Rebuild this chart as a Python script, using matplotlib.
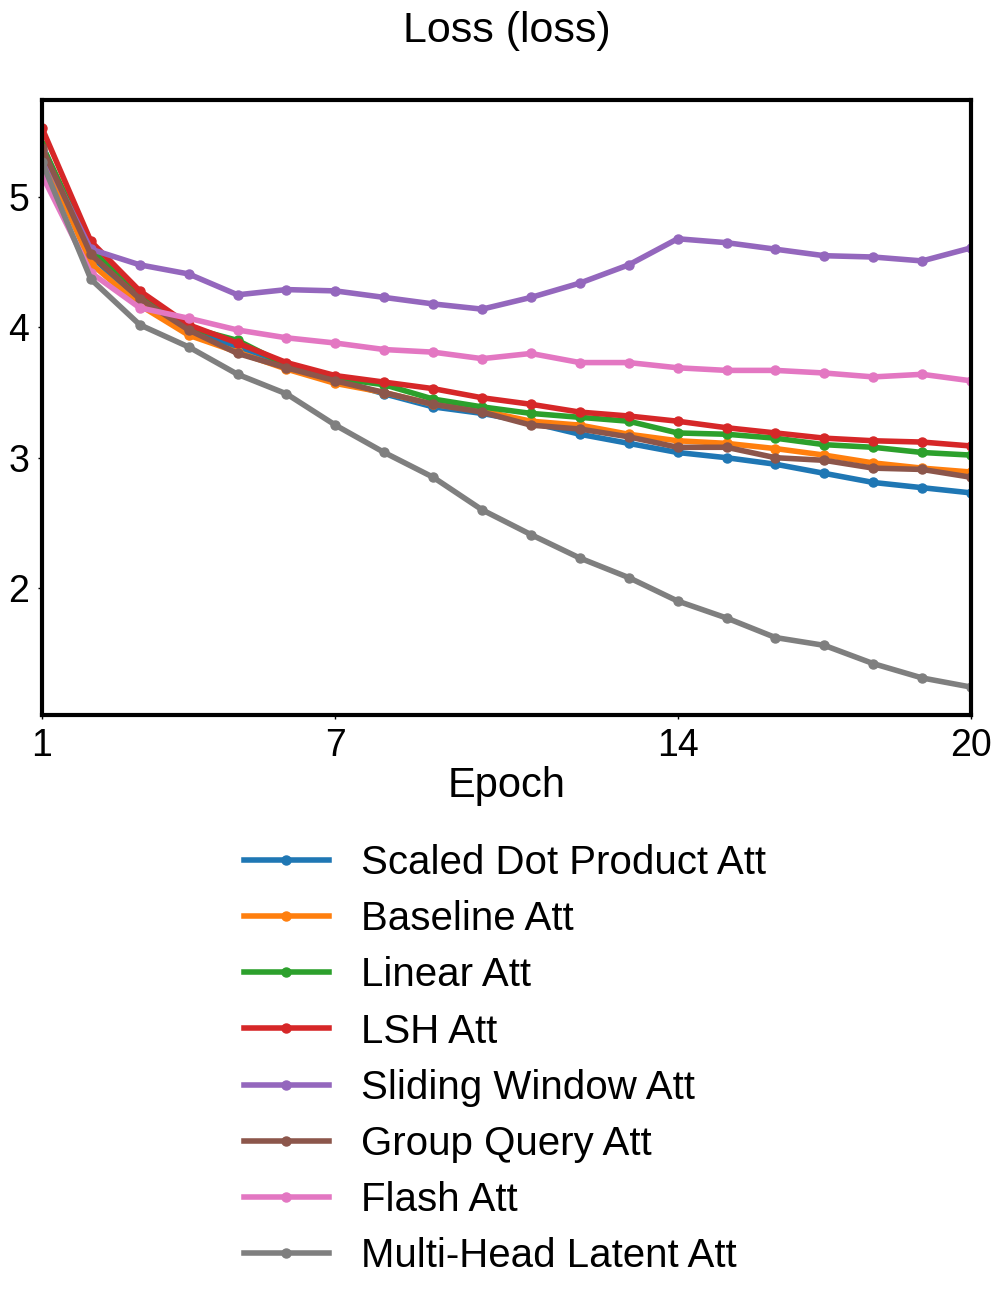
import matplotlib
matplotlib.use('Agg')
import matplotlib.pyplot as plt

plt.rcParams['font.family'] = ['Liberation Sans', 'DejaVu Sans']

epochs = list(range(1, 21))

scaled_dot = [5.40, 4.55, 4.20, 4.00, 3.84, 3.70, 3.60, 3.49, 3.39, 3.34,
              3.27, 3.18, 3.11, 3.04, 3.00, 2.95, 2.88, 2.81, 2.77, 2.73]
baseline = [5.35, 4.49, 4.17, 3.94, 3.81, 3.68, 3.57, 3.50, 3.41, 3.36,
            3.28, 3.25, 3.18, 3.13, 3.11, 3.07, 3.02, 2.96, 2.92, 2.89]
linear = [5.40, 4.60, 4.24, 4.00, 3.90, 3.71, 3.61, 3.56, 3.45, 3.39,
          3.34, 3.31, 3.28, 3.19, 3.18, 3.15, 3.10, 3.08, 3.04, 3.02]
lsh = [5.53, 4.66, 4.28, 4.02, 3.88, 3.73, 3.63, 3.58, 3.53, 3.46,
       3.41, 3.35, 3.32, 3.28, 3.23, 3.19, 3.15, 3.13, 3.12, 3.09]
sliding = [5.35, 4.60, 4.48, 4.41, 4.25, 4.29, 4.28, 4.23, 4.18, 4.14,
           4.23, 4.34, 4.48, 4.68, 4.65, 4.60, 4.55, 4.54, 4.51, 4.61]
group_query = [5.38, 4.56, 4.22, 3.98, 3.80, 3.69, 3.59, 3.50, 3.41, 3.35,
               3.25, 3.22, 3.16, 3.08, 3.08, 3.00, 2.98, 2.92, 2.91, 2.85]
flash = [5.17, 4.42, 4.15, 4.07, 3.98, 3.92, 3.88, 3.83, 3.81, 3.76,
         3.80, 3.73, 3.73, 3.69, 3.67, 3.67, 3.65, 3.62, 3.64, 3.59]
mla = [5.27, 4.37, 4.02, 3.85, 3.64, 3.49, 3.25, 3.04, 2.85, 2.60,
       2.41, 2.23, 2.08, 1.90, 1.77, 1.62, 1.56, 1.42, 1.31, 1.24]

series = [
    ('Scaled Dot Product Att', scaled_dot),
    ('Baseline Att', baseline),
    ('Linear Att', linear),
    ('LSH Att', lsh),
    ('Sliding Window Att', sliding),
    ('Group Query Att', group_query),
    ('Flash Att', flash),
    ('Multi-Head Latent Att', mla),
]

fig = plt.figure(figsize=(10.04, 13.01), dpi=100)
ax = fig.add_axes([0.0418, 0.4504, 0.9254, 0.4727])

for name, vals in series:
    ax.plot(epochs, vals, marker='o', markersize=6.5, linewidth=4, label=name)

ax.set_xlim(1, 20)
ax.set_xticks([1, 7, 14, 20])
ax.set_yticks([2, 3, 4, 5])
ax.tick_params(labelsize=27, width=1, length=3, pad=6)
for s in ax.spines.values():
    s.set_linewidth(3)
ax.set_xlabel('Epoch', fontsize=30, labelpad=2)
ax.set_title('Loss (loss)', fontsize=31, pad=42)

fig.legend(loc='upper center', bbox_to_anchor=(0.503, 0.379), frameon=False,
           fontsize=29, handlelength=2.1, labelspacing=0.45)

fig.savefig('out.png', dpi=100)
